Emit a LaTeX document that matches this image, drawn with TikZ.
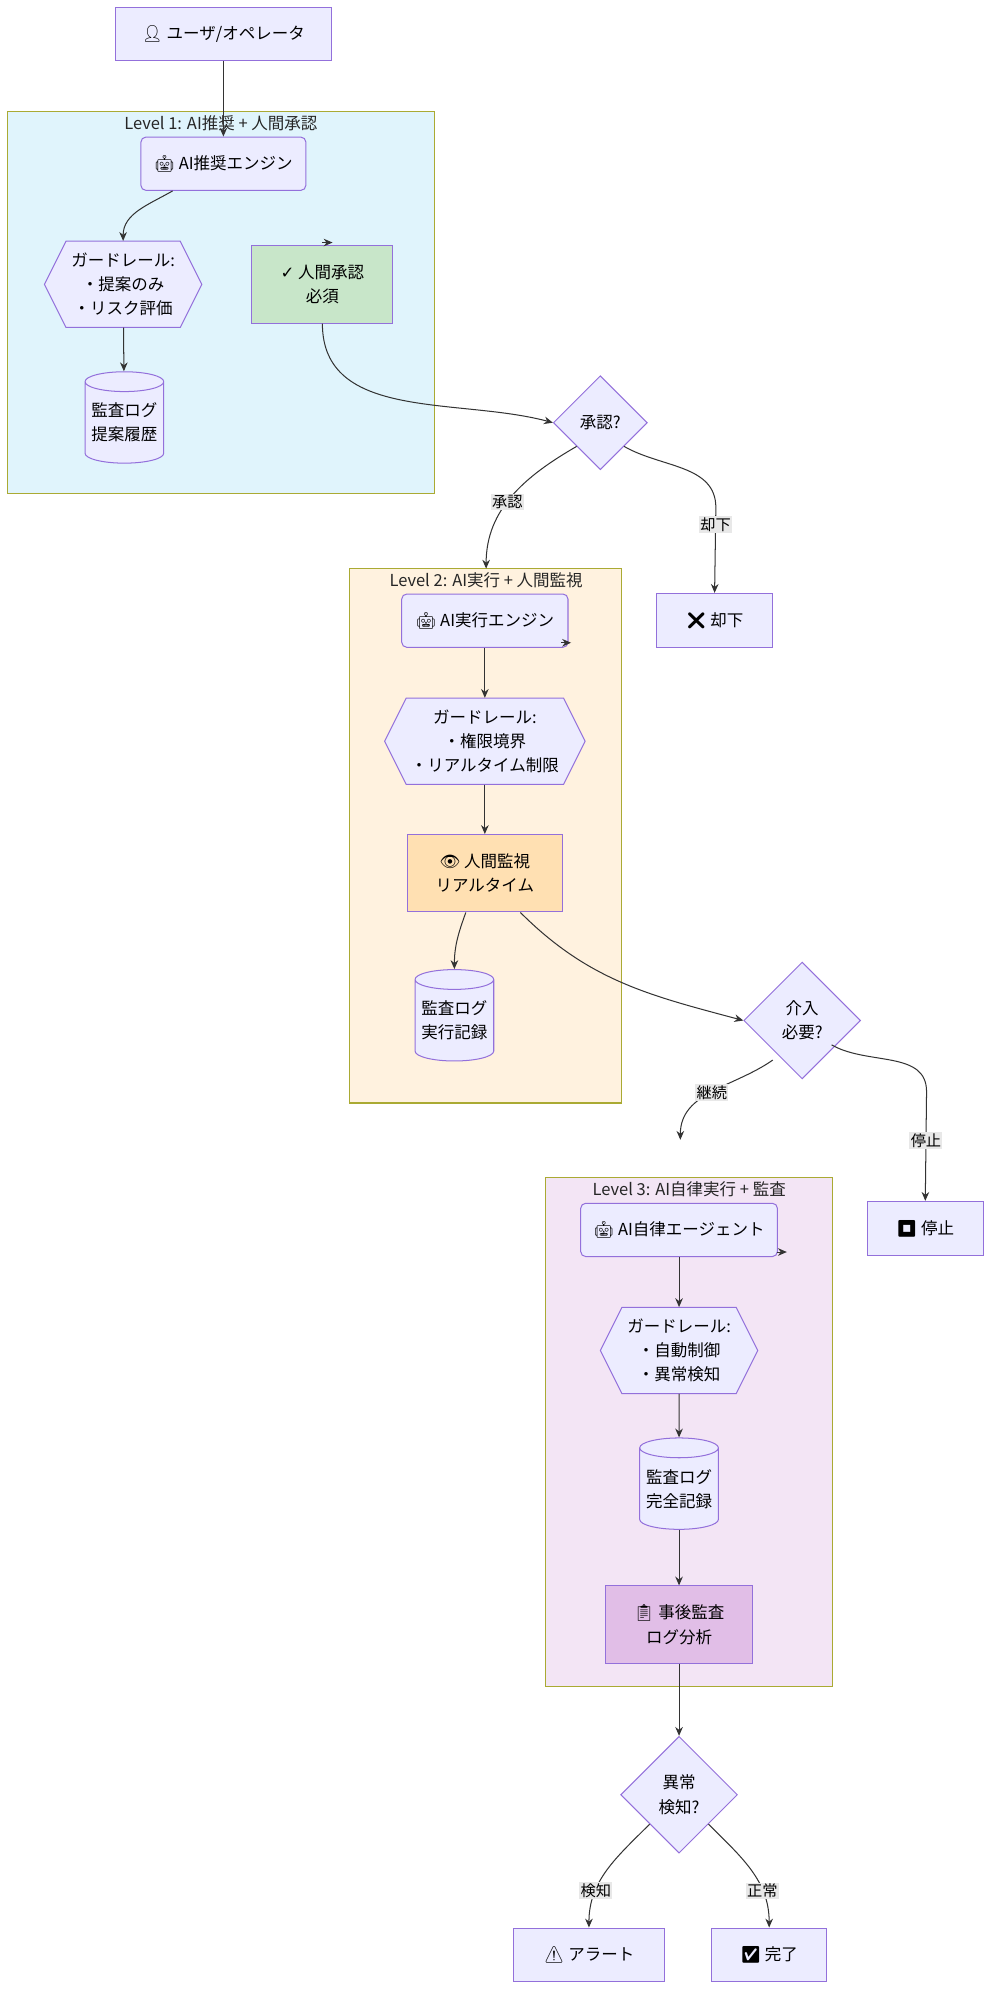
\documentclass[tikz,border=0pt]{standalone}
\usepackage{fontspec}
\setmainfont{Noto Sans CJK JP}
\newfontfamily\emo{Noto Emoji}
\newfontfamily\djfont{DejaVu Sans}
\usetikzlibrary{shapes.geometric,arrows.meta,calc}
\definecolor{nfill}{HTML}{ECECFF}
\definecolor{ndraw}{HTML}{9370DB}
\definecolor{cbord}{HTML}{AAAA33}
\tikzset{
 box/.style={draw=ndraw,fill=nfill,line width=0.8pt,align=center,font=\fontsize{13}{19}\selectfont,inner sep=0pt},
 rbox/.style={box,rounded corners=4pt},
 dia/.style={box,diamond,aspect=1},
 cyl/.style={box,cylinder,shape border rotate=90,aspect=0.3,minimum width=62pt,minimum height=72pt},
 clus/.style={draw=cbord,line width=0.8pt},
 ctitle/.style={font=\fontsize{13}{15}\selectfont,text=black!85},
 hexin/.style={align=center,font=\fontsize{13}{19}\selectfont,inner sep=0pt},
 hexd/.style={draw=ndraw,fill=nfill,line width=0.8pt},
 ar/.style={draw=black!80,line width=0.8pt,-{Stealth[length=7pt,width=6pt]}},
 lab/.style={fill=black!9,font=\fontsize{12}{14}\selectfont,inner sep=1pt},
}
\newcommand{\hexa}[5]{% name, cx, cy, halfwidth, text
 \draw[hexd] ($(#2,#3)+(-#4,0)$) -- ($(#2,#3)+(-#4+17,-34)$) -- ($(#2,#3)+(#4-17,-34)$) -- ($(#2,#3)+(#4,0)$) -- ($(#2,#3)+(#4-17,34)$) -- ($(#2,#3)+(-#4+17,34)$) -- cycle;
 \node[hexin,minimum width=2*#4 pt,minimum height=68pt] (#1) at (#2,#3) {#5};}
\begin{document}
\begin{tikzpicture}[x=1pt,y=-1pt]
\useasboundingbox[fill=white] (0,0) rectangle (784,1571);
% clusters
\draw[clus,fill={rgb,255:red,224;green,244;blue,252}] (6,88) rectangle (342,389);
\node[ctitle] at (174,97) {Level 1: AI推奨 + 人間承認};
\draw[clus,fill={rgb,255:red,255;green,242;blue,223}] (275,448) rectangle (490,869);
\node[ctitle] at (383,457) {Level 2: AI実行 + 人間監視};
\draw[clus,fill={rgb,255:red,243;green,229;blue,245}] (430,928) rectangle (656,1329);
\node[ctitle] at (543,937) {Level 3: AI自律実行 + 監査};
% nodes
\node[box,minimum width=170pt,minimum height=42pt] (user) at (176,27) {{\emo 👤} ユーザ/オペレータ};
\node[rbox,minimum width=130pt,minimum height=42pt] (eng1) at (176,129) {{\emo 🤖} AI推奨エンジン};
\hexa{g1}{97}{224}{62}{ガードレール:\\・提案のみ\\・リスク評価}
\node[cyl] (log1) at (98,333) {監査ログ\\提案履歴};
\node[box,fill={rgb,255:red,200;green,230;blue,201},minimum width=111pt,minimum height=61pt] (appr) at (254,224) {{\djfont ✓} 人間承認\\必須};
\node[dia,minimum width=74pt,minimum height=74pt] (d1) at (473,333) {承認?};
\node[box,minimum width=91pt,minimum height=43pt] (rej) at (563,489) {{\emo ❌} 却下};
\node[rbox,minimum width=131pt,minimum height=42pt] (eng2) at (382,489) {{\emo 🤖} AI実行エンジン};
\hexa{g2}{382}{584}{79}{ガードレール:\\・権限境界\\・リアルタイム制限}
\node[box,fill={rgb,255:red,255;green,224;blue,178},minimum width=122pt,minimum height=61pt] (mon) at (382,688) {{\emo 👁} 人間監視\\リアルタイム};
\node[cyl] (log2) at (358,804) {監査ログ\\実行記録};
\node[dia,minimum width=92pt,minimum height=92pt] (d2) at (632,804) {介入\\必要?};
\node[box,minimum width=91pt,minimum height=43pt] (stop) at (729,968) {{\emo ⏹} 停止};
\node[rbox,minimum width=155pt,minimum height=42pt] (eng3) at (535,969) {{\emo 🤖} AI自律エージェント};
\hexa{g3}{535}{1064}{62}{ガードレール:\\・自動制御\\・異常検知}
\node[cyl] (log3) at (535,1173) {監査ログ\\完全記録};
\node[box,fill={rgb,255:red,225;green,190;blue,231},minimum width=116pt,minimum height=61pt] (post) at (535,1280) {{\emo 📋} 事後監査\\ログ分析};
\node[dia,minimum width=92pt,minimum height=92pt] (d3) at (535,1414) {異常\\検知?};
\node[box,minimum width=119pt,minimum height=42pt] (alert) at (464,1540) {{\emo ⚠} アラート};
\node[box,minimum width=91pt,minimum height=42pt] (done) at (606,1540) {{\emo ✅} 完了};
% edges
\draw[ar] (user) -- (eng1);
\draw[ar] (eng1.south) ++(-40,0) to[out=-150,in=90] (g1.north);
\draw[ar] (g1) -- (log1);
\draw[ar] (appr.north) ++(0,-2) -- ++(8,0);
\draw[ar] (appr.south) to[out=-90,in=165] (d1.west);
\draw[ar] (d1.south west) to[out=-150,in=90] node[lab,pos=0.55] {承認} (383,448);
\draw[ar] (d1.south east) to[out=-30,in=90] (564,400) -- node[lab,pos=0.2] {却下} (rej.north);
\draw[ar] (eng2.south east) ++(-6,-4) -- ++(8,0);
\draw[ar] (eng2) -- (g2);
\draw[ar] (g2) -- (mon);
\draw[ar] (mon.south) ++(-15,0) to[out=-110,in=90] (log2.north);
\draw[ar] (mon.south) ++(28,0) to[out=-45,in=165] (d2.west);
\coordinate (cont) at (536,898);
\draw[ar] (d2.south west) ++(0,8) to[out=-145,in=90] node[lab,pos=0.5] {継続} (cont);
\draw[ar] (d2.south east) ++(0,-4) to[out=-30,in=90] (730,860) -- node[lab,pos=0.45] {停止} (stop.north);
\draw[ar] (eng3.south east) ++(-1,-4) -- ++(8,0);
\draw[ar] (eng3) -- (g3);
\draw[ar] (g3) -- (log3);
\draw[ar] (log3) -- (post);
\draw[ar] (post) -- (d3);
\draw[ar] (d3.south west) to[out=-135,in=90] node[lab,pos=0.7] {検知} (alert.north);
\draw[ar] (d3.south east) to[out=-45,in=90] node[lab,pos=0.7] {正常} (done.north);
\end{tikzpicture}
\end{document}
